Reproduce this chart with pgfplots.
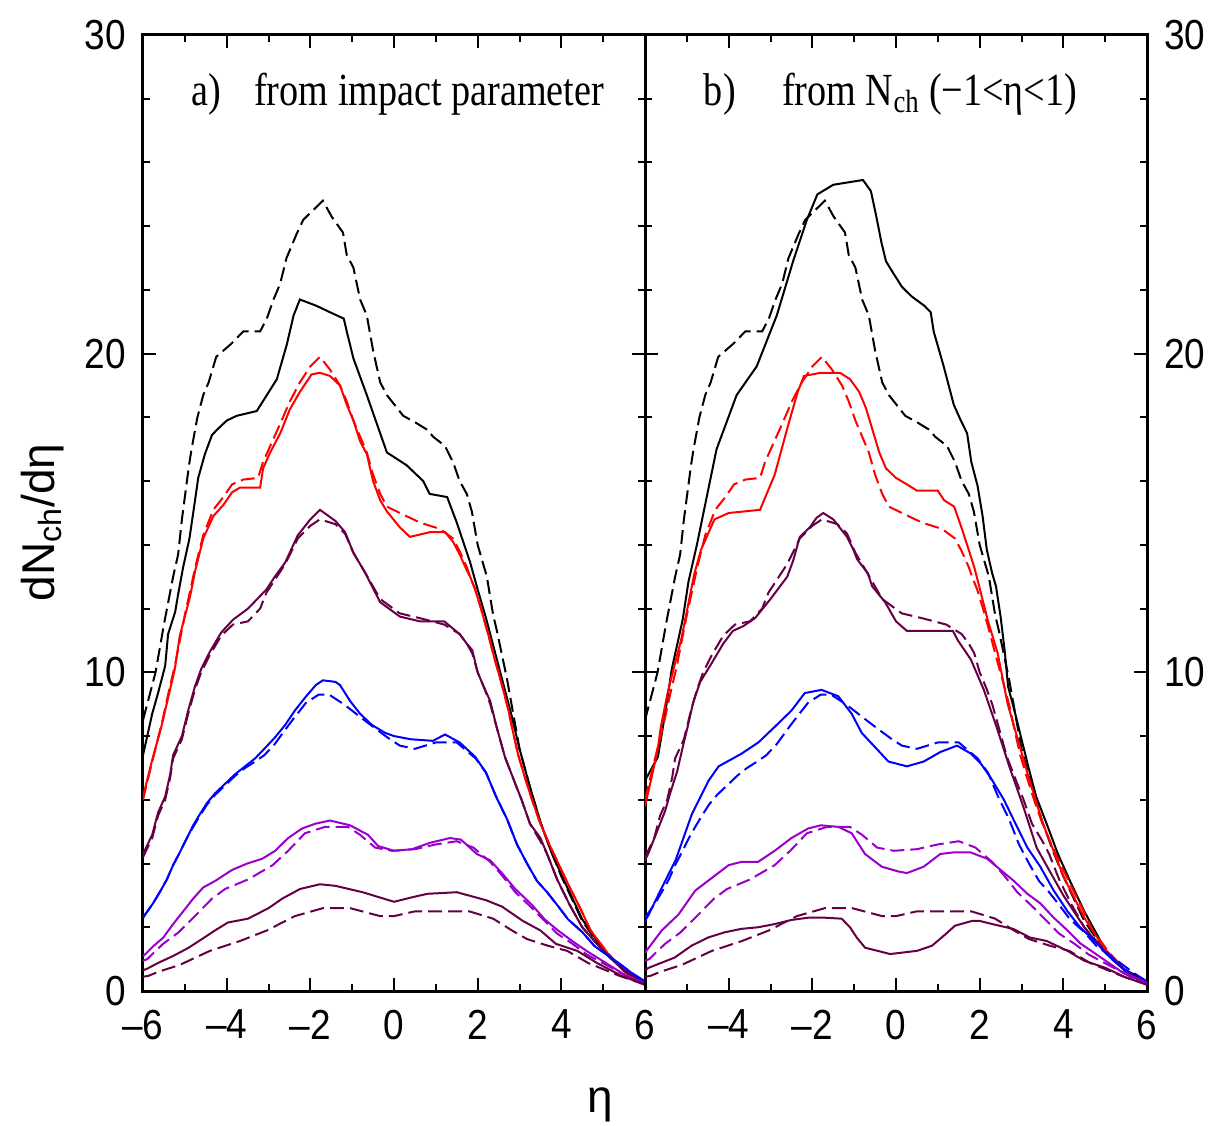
\documentclass[border=0pt]{standalone}
\usepackage{pgfplots}
\pgfplotsset{compat=1.18}
\usepackage{fontspec}
\setmainfont{Liberation Serif}
\setsansfont{Liberation Sans}
\usepackage{graphicx}

\definecolor{dpurp}{RGB}{102,0,68}
\definecolor{vio}{RGB}{153,0,204}

\newcommand{\nr}[1]{\scalebox{0.88}[1]{#1}}

\pgfplotsset{
  panel/.style={
    scale only axis, width=251pt, height=478pt,
    xmin=-6, xmax=6, ymin=0, ymax=30,
    xtick={-6,-4,...,6},
    minor xtick={-5,-3,...,5},
    ytick={0,10,20,30},
    yticklabel={\nr{\pgfmathprintnumber{\tick}}},
    minor ytick={2,4,6,8,12,14,16,18,22,24,26,28},
    xtick pos=both, ytick pos=both, xticklabel pos=lower,
    tick align=inside,
    major tick length=6.5pt, minor tick length=3.5pt,
    every tick/.style={black, line width=1pt},
    axis line style={line width=1.5pt},
    tick label style={font=\sffamily\fontsize{21}{21}\selectfont},
    /pgf/number format/assume math mode=true,
    xticklabel style={yshift=-6pt},
    every axis plot/.append style={line width=1pt, no marks},
  },
  ds/.style={dash pattern=on 7pt off 3pt},
}

% dashed curves, the same in both panels
\def\dA{(-6,8.5)(-5.7,10.0)(-5.5,11.5)(-5.28,13.0)(-5.16,13.7)(-5.07,14.8)(-4.97,15.8)(-4.9,16.5)(-4.84,17.0)(-4.7,18.0)(-4.56,18.7)(-4.43,19.1)(-4.25,19.9)(-3.9,20.3)(-3.6,20.7)(-3.2,20.7)(-3.04,21.1)(-2.88,21.7)(-2.72,22.2)(-2.57,23.0)(-2.33,23.75)(-2.17,24.2)(-1.7,24.8)(-1.49,24.3)(-1.22,23.8)(-1.13,23.1)(-0.97,22.7)(-0.81,21.7)(-0.65,21.2)(-0.5,20.1)(-0.33,19.1)(-0.17,18.7)(0.07,18.3)(0.22,18.05)(0.5,17.85)(0.81,17.6)(0.93,17.4)(1.22,17.1)(1.41,16.6)(1.57,16.0)(1.74,15.6)(1.86,15.05)(2.0,14.0)(2.22,13.0)(2.37,11.8)(2.46,11.3)(2.7,9.8)(2.85,8.7)(3.0,7.6)(3.25,6.4)(3.5,5.3)(3.75,4.4)(4.0,3.6)(4.5,2.2)(5.0,1.25)(5.5,0.65)(6.0,0.3)}
\def\dB{(-6,6.0)(-5.78,7.2)(-5.55,8.4)(-5.4,9.3)(-5.24,10.2)(-5.0,11.8)(-4.75,13.3)(-4.56,14.3)(-4.32,15.1)(-4.08,15.5)(-3.87,15.9)(-3.6,16.05)(-3.25,16.1)(-3.13,16.6)(-2.96,17.1)(-2.72,17.8)(-2.49,18.5)(-2.25,19.1)(-2.0,19.6)(-1.77,19.9)(-1.53,19.5)(-1.29,19.0)(-1.13,18.5)(-0.97,17.9)(-0.81,17.4)(-0.65,16.9)(-0.5,16.2)(-0.33,15.6)(-0.17,15.2)(0.14,15.0)(0.62,14.7)(1.1,14.5)(1.41,14.2)(1.57,13.8)(1.74,13.3)(1.82,13.0)(1.94,12.6)(2.08,12.0)(2.25,11.2)(2.41,10.4)(2.56,9.7)(2.72,8.9)(2.85,8.1)(2.97,7.4)(3.13,6.7)(3.3,6.0)(3.5,5.25)(3.73,4.55)(4.0,3.8)(4.2,3.25)(4.45,2.6)(4.7,1.9)(5.1,1.2)(5.5,0.63)(5.75,0.35)(6.0,0.2)}
\def\dC{(-6,4.2)(-5.78,4.8)(-5.64,5.5)(-5.47,6.0)(-5.35,6.7)(-5.28,7.3)(-5.07,7.9)(-4.92,8.7)(-4.76,9.45)(-4.61,10.0)(-4.4,10.55)(-4.13,11.15)(-3.85,11.5)(-3.49,11.6)(-3.2,12.0)(-3.05,12.5)(-2.85,12.9)(-2.6,13.4)(-2.3,14.2)(-2.0,14.6)(-1.77,14.8)(-1.4,14.65)(-1.17,14.35)(-0.97,13.75)(-0.7,13.15)(-0.33,12.3)(0.14,11.85)(0.62,11.7)(1.2,11.5)(1.57,11.2)(1.74,10.9)(1.87,10.6)(2.0,10.0)(2.16,9.5)(2.3,9.0)(2.45,8.3)(2.65,7.35)(2.9,6.5)(3.05,6.0)(3.25,5.25)(3.5,4.7)(3.66,4.3)(3.9,3.5)(4.2,2.7)(4.5,2.0)(5.0,1.26)(5.5,0.63)(6.0,0.25)}
\def\dD{(-6,2.3)(-5.76,2.75)(-5.6,3.1)(-5.43,3.5)(-5.28,3.95)(-5.12,4.35)(-4.95,4.8)(-4.8,5.15)(-4.64,5.5)(-4.47,5.85)(-4.28,6.15)(-4.04,6.45)(-3.8,6.75)(-3.56,7.0)(-3.32,7.2)(-3.1,7.4)(-2.85,7.75)(-2.6,8.2)(-2.37,8.6)(-2.1,9.05)(-1.8,9.3)(-1.55,9.3)(-1.2,9.0)(-0.66,8.45)(-0.15,7.95)(0.14,7.7)(0.5,7.6)(1.0,7.8)(1.5,7.8)(1.95,7.3)(2.2,6.85)(2.44,6.1)(2.7,5.4)(2.94,4.6)(3.18,4.0)(3.42,3.45)(3.66,3.1)(3.9,2.7)(4.16,2.25)(4.5,1.85)(4.8,1.4)(5.24,1.0)(5.7,0.55)(6.0,0.3)}
\def\dE{(-6,0.95)(-5.9,1.0)(-5.52,1.48)(-5.16,1.83)(-4.76,2.35)(-4.35,2.9)(-4.04,3.2)(-3.49,3.5)(-2.9,3.95)(-2.53,4.4)(-2.13,4.95)(-1.65,5.15)(-1.1,5.15)(-0.81,4.9)(-0.45,4.5)(-0.05,4.4)(0.5,4.45)(1.0,4.6)(1.5,4.7)(1.9,4.5)(2.3,4.05)(2.6,3.6)(2.9,3.1)(3.3,2.6)(3.6,2.2)(3.9,1.8)(4.3,1.45)(4.6,1.15)(5.1,0.8)(5.6,0.45)(6.0,0.2)}
\def\dF{(-6,0.45)(-5.88,0.47)(-5.64,0.6)(-5.12,0.82)(-4.4,1.26)(-3.68,1.57)(-3.04,1.9)(-2.37,2.35)(-1.7,2.6)(-1.05,2.6)(-0.33,2.35)(0.0,2.35)(0.5,2.5)(1.1,2.5)(1.8,2.5)(2.37,2.27)(2.82,1.9)(3.18,1.63)(3.68,1.42)(4.14,1.26)(4.64,0.88)(5.4,0.47)(6.0,0.2)}

\begin{document}
\begin{tikzpicture}
\path[use as bounding box] (-71.5pt,-67pt) rectangle (538pt,495.5pt);

% a) from impact parameter
\begin{axis}[panel, yticklabel pos=left,
  yticklabel style={xshift=-5pt},
  xticklabels={\nr{\textendash6},\nr{\textendash4},\nr{\textendash2},\nr{0},\nr{2},\nr{4},\nr{6}},
  ylabel={dN\textsubscript{ch}/dη},
  every axis y label/.style={at={(axis description cs:-0.2,0.49)}, rotate=90, anchor=center,
    font=\sffamily\fontsize{23}{23}\selectfont},
  xlabel={η},
  every axis x label/.style={at={(axis description cs:0.91,-0.119)}, anchor=center,
    font=\sffamily\fontsize{23}{23}\selectfont},
]
\addplot[black, ds] coordinates {\dA};
\addplot[black] coordinates {(-6,7.4)(-5.78,8.7)(-5.64,9.35)(-5.47,10.2)(-5.4,11.2)(-5.23,11.9)(-5.16,12.45)(-5.04,13.3)(-4.89,14.2)(-4.8,15.0)(-4.68,16.1)(-4.52,16.85)(-4.35,17.45)(-4.24,17.6)(-4.0,17.9)(-3.76,18.05)(-3.28,18.2)(-3.04,18.7)(-2.8,19.2)(-2.56,20.3)(-2.4,21.2)(-2.25,21.7)(-1.85,21.5)(-1.53,21.3)(-1.2,21.1)(-1.13,20.7)(-0.97,19.85)(-0.65,18.7)(-0.33,17.5)(-0.17,16.9)(0.3,16.5)(0.7,16.0)(0.85,15.6)(1.27,15.5)(1.5,14.7)(1.82,13.45)(2.0,12.6)(2.2,11.7)(2.4,10.7)(2.6,9.7)(2.8,8.7)(3.0,7.6)(3.25,6.4)(3.5,5.3)(3.75,4.4)(4.0,3.65)(4.5,2.25)(5.0,1.3)(5.5,0.65)(6.0,0.25)};
\addplot[red, ds] coordinates {\dB};
\addplot[red] coordinates {(-6,6.1)(-5.78,7.25)(-5.55,8.35)(-5.4,9.2)(-5.24,10.1)(-5.12,11.15)(-5.0,11.75)(-4.88,12.35)(-4.75,13.2)(-4.56,14.2)(-4.32,14.9)(-4.08,15.25)(-3.87,15.65)(-3.68,15.8)(-3.2,15.8)(-3.13,16.4)(-2.96,16.9)(-2.72,17.5)(-2.49,18.25)(-2.25,18.8)(-1.97,19.35)(-1.77,19.4)(-1.53,19.3)(-1.29,19.0)(-1.13,18.4)(-0.97,17.9)(-0.81,17.25)(-0.65,16.85)(-0.5,16.0)(-0.33,15.4)(-0.17,15.05)(0.14,14.55)(0.38,14.25)(0.86,14.4)(1.22,14.4)(1.41,14.1)(1.57,13.7)(1.74,13.2)(1.82,13.0)(1.94,12.6)(2.08,12.0)(2.25,11.2)(2.41,10.4)(2.56,9.7)(2.72,8.9)(2.85,8.1)(2.97,7.4)(3.13,6.7)(3.3,6.0)(3.5,5.25)(3.73,4.55)(4.0,3.8)(4.2,3.25)(4.45,2.6)(4.7,1.9)(5.1,1.2)(5.5,0.63)(5.75,0.35)(6.0,0.2)};
\addplot[dpurp, ds] coordinates {\dC};
\addplot[dpurp] coordinates {(-6,4.3)(-5.78,4.9)(-5.64,5.6)(-5.47,6.1)(-5.35,6.8)(-5.28,7.4)(-5.07,8.0)(-4.92,8.8)(-4.76,9.55)(-4.61,10.1)(-4.4,10.65)(-4.13,11.25)(-3.85,11.65)(-3.49,12.0)(-3.05,12.6)(-2.85,13.0)(-2.6,13.45)(-2.3,14.3)(-2.0,14.8)(-1.77,15.1)(-1.4,14.75)(-1.17,14.4)(-0.97,13.75)(-0.7,13.15)(-0.33,12.2)(0.14,11.75)(0.62,11.6)(1.2,11.6)(1.57,11.2)(1.74,10.9)(1.87,10.7)(2.0,10.0)(2.16,9.5)(2.3,9.1)(2.45,8.3)(2.65,7.35)(2.9,6.5)(3.05,6.0)(3.25,5.25)(3.5,4.8)(3.66,4.3)(3.9,3.5)(4.2,2.7)(4.5,2.0)(5.0,1.26)(5.5,0.63)(6.0,0.25)};
\addplot[blue, ds] coordinates {\dD};
\addplot[blue] coordinates {(-6,2.3)(-5.95,2.4)(-5.76,2.75)(-5.6,3.1)(-5.43,3.5)(-5.28,3.95)(-5.12,4.35)(-4.95,4.8)(-4.8,5.2)(-4.64,5.55)(-4.47,5.9)(-4.28,6.2)(-4.04,6.5)(-3.8,6.8)(-3.56,7.05)(-3.32,7.3)(-3.1,7.6)(-2.85,7.95)(-2.6,8.35)(-2.37,8.8)(-2.13,9.2)(-1.87,9.6)(-1.7,9.75)(-1.4,9.7)(-1.29,9.6)(-1.05,9.1)(-0.81,8.7)(-0.53,8.35)(-0.21,8.1)(0.0,8.0)(0.4,7.9)(0.93,7.85)(1.22,8.05)(1.57,7.8)(1.94,7.35)(2.2,6.85)(2.44,6.1)(2.7,5.4)(2.94,4.6)(3.18,4.0)(3.42,3.45)(3.66,3.1)(3.9,2.7)(4.16,2.25)(4.5,1.85)(4.8,1.4)(5.24,1.0)(5.7,0.55)(6.0,0.3)};
\addplot[vio, ds] coordinates {\dE};
\addplot[vio] coordinates {(-6,1.1)(-5.95,1.15)(-5.76,1.4)(-5.52,1.67)(-5.28,2.1)(-5.04,2.5)(-4.8,2.9)(-4.56,3.25)(-4.28,3.45)(-3.87,3.8)(-3.51,4.0)(-3.15,4.15)(-2.84,4.4)(-2.53,4.8)(-2.2,5.1)(-1.88,5.25)(-1.53,5.35)(-1.05,5.2)(-0.62,4.9)(-0.38,4.55)(0.0,4.4)(0.43,4.45)(0.86,4.65)(1.34,4.8)(1.6,4.75)(1.98,4.3)(2.3,4.1)(2.58,3.7)(2.9,3.2)(3.3,2.7)(3.6,2.25)(3.92,1.9)(4.26,1.57)(4.6,1.26)(5.1,0.85)(5.64,0.4)(6.0,0.25)};
\addplot[dpurp, ds] coordinates {\dF};
\addplot[dpurp] coordinates {(-6,0.65)(-5.9,0.7)(-5.64,0.88)(-5.28,1.1)(-4.92,1.35)(-4.59,1.63)(-4.28,1.9)(-3.97,2.15)(-3.49,2.27)(-3.0,2.6)(-2.67,2.9)(-2.25,3.2)(-1.77,3.35)(-1.4,3.3)(-0.75,3.1)(-0.25,2.9)(0.0,2.8)(0.46,2.95)(0.8,3.05)(1.5,3.1)(2.2,2.85)(2.58,2.65)(3.08,2.2)(3.5,1.9)(3.87,1.48)(4.38,1.26)(4.85,0.88)(5.45,0.47)(6.0,0.2)};
\node[anchor=base west, font=\fontsize{23}{23}\selectfont] at (axis cs:-5.0,27.8) {\scalebox{0.83}[1]{a)}};
\node[anchor=base west, font=\fontsize{23}{23}\selectfont] at (axis cs:-3.51,27.8) {\scalebox{0.83}[1]{from impact parameter}};
\end{axis}

% b) from N_ch
\begin{axis}[panel, at={(251pt,0pt)}, yticklabel pos=right,
  yticklabel style={xshift=5pt},
  xticklabels={,\nr{\textendash4},\nr{\textendash2},\nr{0},\nr{2},\nr{4},\nr{6}},
]
\addplot[black, ds] coordinates {\dA};
\addplot[black] coordinates {(-6,6.6)(-5.69,7.35)(-5.52,8.7)(-5.36,10.1)(-5.1,11.65)(-4.96,12.85)(-4.76,14.0)(-4.29,17.0)(-3.81,18.7)(-3.33,19.6)(-2.85,21.2)(-2.46,22.9)(-2.13,24.2)(-1.88,25.0)(-1.5,25.3)(-0.79,25.45)(-0.6,25.1)(-0.47,24.3)(-0.35,23.5)(-0.24,22.9)(-0.1,22.6)(0.14,22.1)(0.37,21.8)(0.68,21.5)(0.83,21.3)(0.9,20.7)(1.02,20.15)(1.14,19.6)(1.26,19.0)(1.38,18.4)(1.55,17.9)(1.7,17.5)(1.8,16.6)(1.95,15.85)(2.07,14.9)(2.17,13.85)(2.3,13.1)(2.39,12.7)(2.5,11.75)(2.6,10.65)(2.68,9.55)(2.85,8.7)(3.0,7.9)(3.17,7.0)(3.35,6.1)(3.6,5.25)(3.87,4.3)(4.16,3.45)(4.5,2.5)(5.0,1.3)(5.5,0.6)(6.0,0.2)};
\addplot[red, ds] coordinates {\dB};
\addplot[red] coordinates {(-6,5.8)(-5.86,6.6)(-5.7,7.55)(-5.62,8.3)(-5.46,9.35)(-5.3,10.2)(-5.14,11.0)(-4.98,12.05)(-4.82,13.1)(-4.66,13.85)(-4.34,14.8)(-4.0,15.0)(-3.25,15.1)(-2.9,16.2)(-2.59,17.7)(-2.35,18.8)(-2.2,19.3)(-1.8,19.4)(-1.34,19.4)(-1.1,19.2)(-0.88,18.8)(-0.72,18.3)(-0.56,17.6)(-0.4,16.9)(-0.24,16.4)(0.0,16.1)(0.26,15.9)(0.5,15.7)(1.0,15.7)(1.15,15.4)(1.39,15.2)(1.55,14.6)(1.7,14.0)(1.87,13.3)(1.95,12.9)(2.19,11.65)(2.43,10.6)(2.67,9.0)(2.91,7.9)(3.15,6.8)(3.5,5.3)(4.0,3.6)(4.5,2.3)(5.0,1.3)(5.5,0.6)(6.0,0.2)};
\addplot[dpurp, ds] coordinates {\dC};
\addplot[dpurp] coordinates {(-6,4.1)(-5.91,4.35)(-5.52,5.65)(-5.4,6.2)(-5.23,6.9)(-5.09,7.7)(-4.97,8.35)(-4.85,9.05)(-4.68,9.7)(-4.4,10.3)(-4.13,10.9)(-3.9,11.3)(-3.65,11.45)(-3.37,11.7)(-3.0,12.3)(-2.6,13.0)(-2.46,13.5)(-2.3,14.25)(-2.06,14.55)(-1.9,14.85)(-1.74,15.0)(-1.5,14.8)(-1.17,14.25)(-1.02,13.85)(-0.93,13.55)(-0.67,13.1)(-0.57,12.7)(-0.26,12.2)(0.0,11.6)(0.26,11.3)(1.36,11.3)(1.48,11.0)(1.79,10.4)(2.1,9.45)(2.4,8.3)(2.72,7.0)(3.04,5.8)(3.36,4.5)(3.7,3.7)(4.0,3.0)(4.5,2.0)(5.0,1.2)(5.5,0.6)(6.0,0.2)};
\addplot[blue, ds] coordinates {\dD};
\addplot[blue] coordinates {(-6,2.2)(-5.91,2.4)(-5.67,3.05)(-5.27,4.1)(-4.88,5.55)(-4.48,6.6)(-4.24,7.05)(-3.69,7.45)(-3.29,7.8)(-2.89,8.3)(-2.5,8.8)(-2.18,9.35)(-1.78,9.45)(-1.38,9.25)(-1.06,8.7)(-0.82,8.1)(-0.5,7.65)(-0.18,7.2)(0.26,7.05)(0.66,7.2)(1.06,7.5)(1.46,7.7)(1.79,7.45)(2.02,7.15)(2.26,6.7)(2.58,6.0)(2.82,5.35)(3.14,4.5)(3.45,3.9)(3.77,3.15)(4.1,2.5)(4.4,2.0)(4.8,1.5)(5.2,0.95)(5.7,0.42)(6.0,0.25)};
\addplot[vio, ds] coordinates {\dE};
\addplot[vio] coordinates {(-6,1.2)(-5.91,1.36)(-5.6,1.9)(-5.2,2.4)(-4.8,3.15)(-4.4,3.55)(-4.0,3.95)(-3.7,4.05)(-3.3,4.05)(-2.9,4.4)(-2.5,4.8)(-2.1,5.1)(-1.8,5.2)(-1.38,5.15)(-1.06,4.95)(-0.74,4.3)(-0.34,3.9)(0.06,3.75)(0.26,3.7)(0.66,3.9)(1.06,4.3)(1.38,4.35)(1.78,4.35)(2.18,4.15)(2.5,3.8)(2.82,3.45)(3.14,3.05)(3.45,2.75)(3.77,2.3)(4.1,1.9)(4.4,1.5)(4.9,1.05)(5.36,0.63)(6.0,0.25)};
\addplot[dpurp, ds] coordinates {\dF};
\addplot[dpurp] coordinates {(-6,0.65)(-5.91,0.73)(-5.29,1.05)(-4.89,1.42)(-4.49,1.68)(-4.1,1.84)(-3.7,1.95)(-3.3,2.0)(-2.9,2.1)(-2.5,2.23)(-2.1,2.3)(-1.7,2.3)(-1.3,2.27)(-1.1,2.0)(-0.94,1.68)(-0.74,1.36)(-0.14,1.16)(0.5,1.26)(0.86,1.42)(1.2,1.8)(1.41,2.05)(1.82,2.2)(2.0,2.2)(2.3,2.1)(2.8,1.95)(3.2,1.68)(3.6,1.57)(4.1,1.26)(4.5,0.95)(5.0,0.73)(5.5,0.42)(6.0,0.2)};
\node[anchor=base west, font=\fontsize{23}{23}\selectfont] at (axis cs:-4.76,27.8) {\scalebox{0.83}[1]{b)}};
\node[anchor=base west, font=\fontsize{23}{23}\selectfont] at (axis cs:-2.89,27.8) {\scalebox{0.83}[1]{from N\textsubscript{ch} (−1<η<1)}};
\end{axis}
\end{tikzpicture}
\end{document}
